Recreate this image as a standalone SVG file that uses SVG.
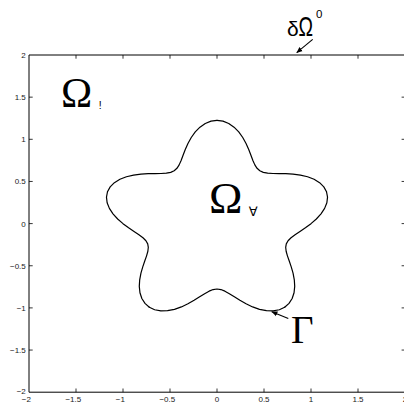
<svg xmlns="http://www.w3.org/2000/svg" xmlns:xlink="http://www.w3.org/1999/xlink" width="404" height="406" viewBox="0 0 404 406">
<style>
.tick{font-family:"Liberation Sans",Arial,sans-serif;font-size:8px;fill:#1a1a1a}
.sans{font-family:"Liberation Sans",Arial,sans-serif;fill:#000}
.serif{font-family:"Liberation Serif","Times New Roman",serif;fill:#000}
.axis{fill:none;stroke:#000;stroke-width:1}
.tk{fill:none;stroke:#000;stroke-width:0.8}
.curve{fill:none;stroke:#000;stroke-width:1.2;stroke-linejoin:round;stroke-linecap:round}
.conn{fill:none;stroke:#000;stroke-width:1.1}
</style>
<defs>
<marker id="ah" viewBox="0 0 10 10" refX="9.5" refY="5" markerWidth="6" markerHeight="6" markerUnits="userSpaceOnUse" orient="auto">
<path d="M0,0.8 L10,5 L0,9.2 z" fill="#000"/>
</marker>
<path id="seg" class="curve" vector-effect="non-scaling-stroke" d="M1.16505,0.37855 L1.13649,0.43626 L1.09156,0.486 L1.03277,0.52622 L0.96346,0.55625 L0.8875,0.57636 L0.80902,0.58779 L0.7319,0.59267 L0.65954,0.59385 L0.59461,0.59461 L0.53874,0.59833 L0.49254,0.60825 L0.45554,0.62699 L0.42627,0.65639 L0.40257,0.69727 L0.38176,0.74925 L0.36098,0.81078 L0.3375,0.87922 L0.30902,0.95106 L0.27389,1.02218 L0.2313,1.08819 L0.18132,1.14483 L0.1249,1.18831 L0.06372,1.21567 L0,1.225"/>
</defs>
<rect x="0" y="0" width="404" height="406" fill="#fff"/>

<g id="axes">
<path class="axis" d="M29,55 H405.3 M29,55 V392.2 H405.3 M405.3,55 V392.2"/>
<path class="tk" d="M76,55 v3.7 M123,55 v3.7 M170,55 v3.7 M217,55 v3.7 M264,55 v3.7 M311,55 v3.7 M358,55 v3.7
M76,392.2 v-3.7 M123,392.2 v-3.7 M170,392.2 v-3.7 M217,392.2 v-3.7 M264,392.2 v-3.7 M311,392.2 v-3.7 M358,392.2 v-3.7
M29,97.15 h3.7 M29,139.3 h3.7 M29,181.45 h3.7 M29,223.6 h3.7 M29,265.75 h3.7 M29,307.9 h3.7 M29,350.05 h3.7
M405.3,97.15 h-3.7 M405.3,139.3 h-3.7 M405.3,181.45 h-3.7 M405.3,223.6 h-3.7 M405.3,265.75 h-3.7 M405.3,307.9 h-3.7 M405.3,350.05 h-3.7"/>
<g class="tick" text-anchor="end">
<text x="25.8" y="58">2</text>
<text x="25.8" y="100.1">1.5</text>
<text x="25.8" y="142.3">1</text>
<text x="25.8" y="184.4">0.5</text>
<text x="25.8" y="226.6">0</text>
<text x="25.8" y="268.7">−0.5</text>
<text x="25.8" y="310.9">−1</text>
<text x="25.8" y="353">−1.5</text>
<text x="25.8" y="393.8">−2</text>
</g>
<g class="tick" text-anchor="middle">
<text x="26.3" y="402">−2</text>
<text x="73.3" y="402">−1.5</text>
<text x="120.3" y="402">−1</text>
<text x="167.3" y="402">−0.5</text>
<text x="217" y="402">0</text>
<text x="264" y="402">0.5</text>
<text x="311" y="402">1</text>
<text x="358" y="402">1.5</text>
<text x="405" y="402">2</text>
</g>
</g>

<g id="gamma-curve" transform="translate(217 223.65) scale(94 -84.3)">
<use xlink:href="#seg" href="#seg"/>
<use xlink:href="#seg" href="#seg" transform="rotate(72)"/>
<use xlink:href="#seg" href="#seg" transform="rotate(144)"/>
<use xlink:href="#seg" href="#seg" transform="rotate(216)"/>
<use xlink:href="#seg" href="#seg" transform="rotate(288)"/>
</g>

<g id="label-outer-boundary">
<text class="sans" x="287" y="36" font-size="21">δ</text>
<text class="sans" transform="translate(298.5 36) scale(0.72 1)" x="0" y="0" font-size="27">Ω</text>
<text class="sans" x="316" y="18.4" font-size="11.5">0</text>
</g>
<g id="label-omega-outer">
<text class="serif" x="61" y="106.7" font-size="42">Ω</text>
<text class="sans" x="98.8" y="109.3" font-size="10.5">!</text>
</g>
<g id="label-omega-inner">
<text class="serif" x="209" y="213.3" font-size="45">Ω</text>
<text x="253.3" y="216" font-size="13" text-anchor="middle" font-family="DejaVu Sans, sans-serif" fill="#000">∀</text>
</g>
<g id="label-gamma">
<text class="serif" x="291" y="343" font-size="39">Γ</text>
</g>

<g id="connectors">
<line class="conn" x1="312.7" y1="39.3" x2="296.7" y2="52.7" marker-end="url(#ah)"/>
<line class="conn" x1="288.3" y1="318.6" x2="271.7" y2="311.7" marker-end="url(#ah)"/>
</g>
</svg>
